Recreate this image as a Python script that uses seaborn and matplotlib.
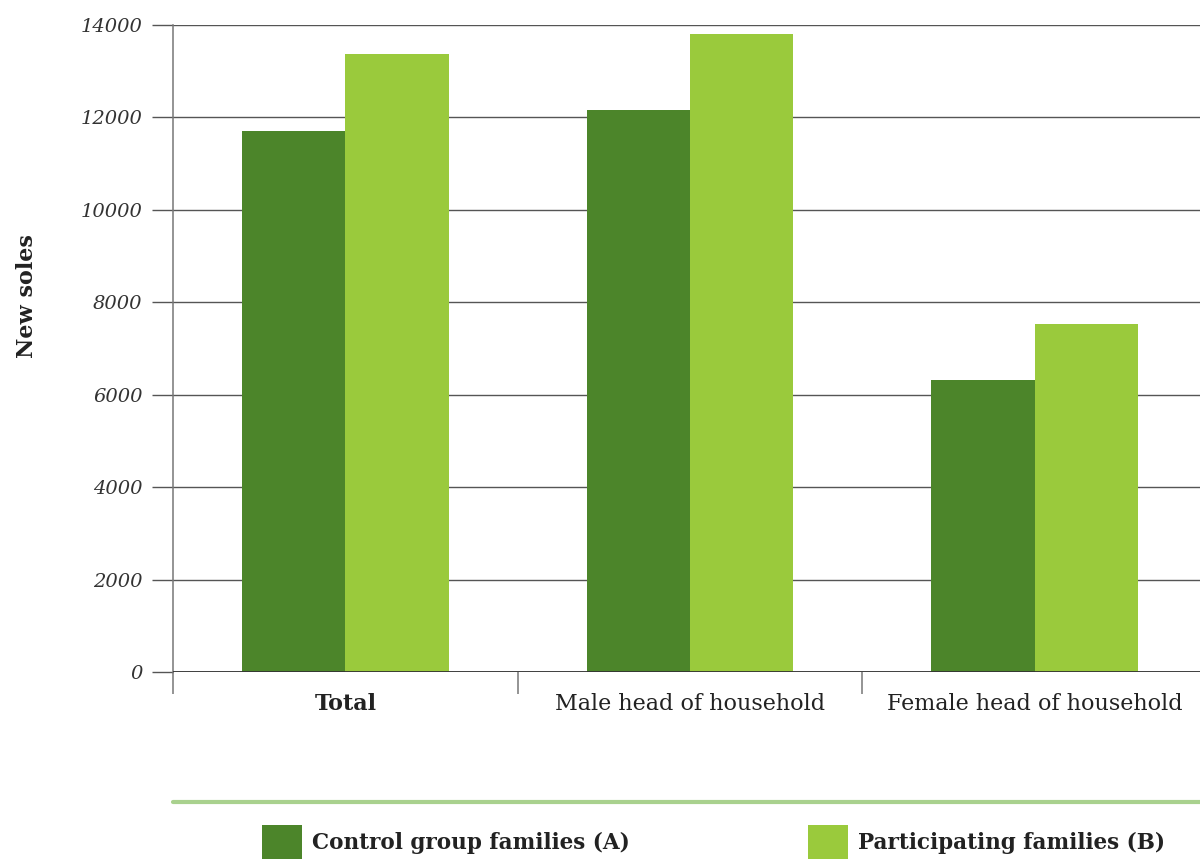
import pandas as pd
import seaborn as sns
import matplotlib.pyplot as plt
from matplotlib.lines import Line2D
from matplotlib.patches import Patch

# values (new soles)
categories = ['Total', 'Male head of household', 'Female head of household']
groups = ['Control group families (A)', 'Participating families (B)']
control = [11700, 12150, 6320]
participating = [13370, 13810, 7520]
colors = ['#4c852a', '#9aca3c']

df = pd.DataFrame({
    'category': categories * 2,
    'group': [groups[0]] * 3 + [groups[1]] * 3,
    'value': control + participating,
})

sns.set_style('white')
plt.rcParams['font.family'] = ['DejaVu Serif']

fig = plt.figure(figsize=(12, 8.59), dpi=100)
ax = fig.add_axes([173 / 1200, 1 - 672 / 859, 1 - 173 / 1200, (672 - 25) / 859])

sns.barplot(data=df, x='category', y='value', hue='group', palette=colors,
            width=0.6, gap=0, saturation=1, ax=ax, legend=False,
            edgecolor='none', linewidth=0, zorder=3)

ax.set_ylim(0, 14000)
ax.set_xlim(-0.5, 2.48)
ax.set_yticks(range(0, 14001, 2000))
ax.set_yticklabels([str(v) for v in range(0, 14001, 2000)], fontsize=14,
                   style='italic', color='#333333')
ax.yaxis.grid(True, color='#555555', linewidth=1.0, zorder=0)
ax.set_axisbelow(True)
ax.tick_params(axis='y', left=True, length=15, width=1.0, color='#555555', pad=7)

# category separators as major ticks, labels as minor ticks
ax.set_xticks([-0.5, 0.5, 1.5])
ax.set_xticklabels(['', '', ''])
ax.tick_params(axis='x', which='major', bottom=True, length=16, width=1.1,
               color='#777777', direction='out')
ax.set_xticks([0, 1, 2], minor=True)
ax.set_xticklabels(categories, minor=True, fontsize=16, color='#222222')
ax.tick_params(axis='x', which='minor', bottom=True, length=0, pad=15)
ax.get_xticklabels(minor=True)[0].set_fontweight('bold')

for s in ['top', 'right', 'bottom']:
    ax.spines[s].set_visible(False)
ax.spines['left'].set_color('#777777')
ax.spines['left'].set_linewidth(1.1)
ax.axhline(0, color='#333333', linewidth=1.3, zorder=4)

ax.set_xlabel('')
ax.set_ylabel('')
fig.text(27 / 1200, 1 - 296 / 859, 'New soles', rotation=90, fontsize=16,
         fontweight='bold', ha='center', va='center', color='#222222')

# separator line above the legend
fig.add_artist(Line2D([173 / 1200, 1], [1 - 802 / 859] * 2, transform=fig.transFigure,
                      color='#a9d18e', linewidth=3))

for i, (lab, col) in enumerate(zip(groups, colors)):
    x0 = [262, 808][i] / 1200
    leg = fig.legend(handles=[Patch(facecolor=col, edgecolor='none', label=lab)],
                     loc='center left', bbox_to_anchor=(x0, 1 - 842 / 859),
                     frameon=False, prop={'weight': 'bold', 'size': 15.5},
                     handlelength=1.86, handleheight=2.05, handletextpad=0.45,
                     borderpad=0, borderaxespad=0)
    for t in leg.get_texts():
        t.set_color('#222222')

fig.savefig('out.png', dpi=100)
